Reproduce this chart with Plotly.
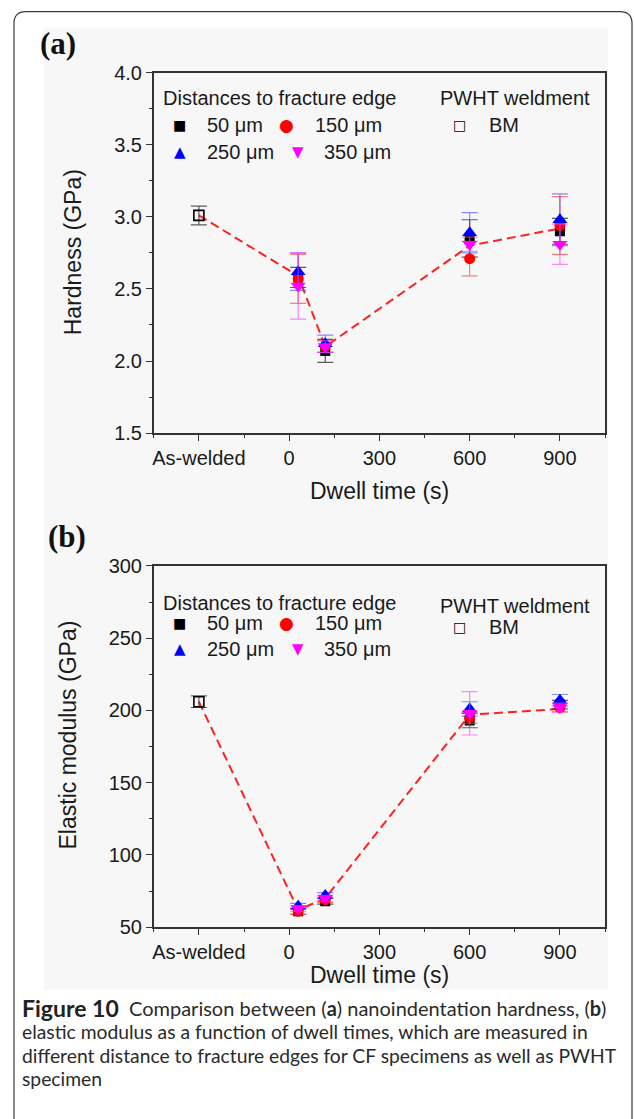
import plotly.graph_objects as go

W = 634
H_FIG = 1119
# the viewer shows the page ~10 px lower and ~0.982x vertically; compensate
Y_OFF = 10.2
Y_SCALE = 0.982

# ---------------- data ----------------
dwell_cf = [30, 120, 600, 900]          # dwell time (s) for CF specimens
bm_pos = [-300]                          # "As-welded" position on the axis
line_x = [-300, 30, 120, 600, 900]
x_tickvals = [-300, 0, 300, 600, 900]
x_ticktext = ["As-welded", "0", "300", "600", "900"]
x_minor = [-450, -150, 150, 450, 750, 1050]

# (a) hardness (GPa)
hard_bm = [3.01]
hard_bm_err = [0.065]
hard_50 = [2.58, 2.07, 2.85, 2.90]
hard_50_err = [0.07, 0.08, 0.13, 0.09]
hard_150 = [2.57, 2.10, 2.71, 2.94]
hard_150_err = [0.17, 0.04, 0.12, 0.20]
hard_250 = [2.62, 2.12, 2.89, 2.98]
hard_250_err = [0.13, 0.06, 0.14, 0.18]
hard_350 = [2.52, 2.10, 2.81, 2.81]
hard_350_err = [0.23, 0.04, 0.05, 0.14]
hard_line = [3.01, 2.59, 2.10, 2.80, 2.92]

# (b) elastic modulus (GPa)
mod_bm = [206]
mod_bm_err = [4]
mod_50 = [61, 68, 193, 204]
mod_50_err = [2, 2, 5, 3]
mod_150 = [61, 69, 195, 202]
mod_150_err = [2, 2, 4, 3]
mod_250 = [64.5, 72, 201, 207]
mod_250_err = [2, 2, 5, 4]
mod_350 = [63, 70, 198, 202]
mod_350_err = [2, 2, 15, 3]
mod_line = [206, 62, 70, 197, 201]

series_names = ["50 μm", "150 μm", "250 μm", "350 μm"]
# ---------------------------------------


def px(x):
    return x / W


def py(y):
    return 1 - ((y - Y_OFF) / Y_SCALE) / H_FIG


FONT = "Liberation Sans, Arial, sans-serif"
styles = [
    dict(symbol="square", size=10, color="black", err="rgba(40,40,40,0.75)"),
    dict(symbol="circle", size=11, color="#ff0000", err="rgba(255,60,60,0.65)"),
    dict(symbol="triangle-up", size=13, color="#0000ff", err="rgba(60,60,255,0.6)"),
    dict(symbol="triangle-down", size=13, color="#ff00ff", err="rgba(255,60,255,0.6)"),
]

fig = go.Figure()


def add_panel(xa, ya, bm, bm_err, vals, errs, line):
    fig.add_trace(go.Scatter(
        x=line_x, y=line, mode="lines", xaxis=xa, yaxis=ya,
        line=dict(color="#ff2020", width=2, dash="9px,5px"), showlegend=False))
    fig.add_trace(go.Scatter(
        x=bm_pos, y=bm, mode="markers", xaxis=xa, yaxis=ya,
        marker=dict(symbol="square-open", size=10, color="black", line=dict(width=1.6)),
        error_y=dict(type="data", array=bm_err, color="rgba(40,40,40,0.75)", thickness=1.2, width=8),
        showlegend=False))
    for v, e, s, n in zip(vals, errs, styles, series_names):
        fig.add_trace(go.Scatter(
            x=dwell_cf, y=v, mode="markers", xaxis=xa, yaxis=ya, name=n,
            marker=dict(symbol=s["symbol"], size=s["size"], color=s["color"], line=dict(width=0)),
            error_y=dict(type="data", array=e, color=s["err"], thickness=1.2, width=8),
            showlegend=False))


add_panel("x", "y", hard_bm, hard_bm_err,
          [hard_50, hard_150, hard_250, hard_350],
          [hard_50_err, hard_150_err, hard_250_err, hard_350_err], hard_line)
add_panel("x2", "y2", mod_bm, mod_bm_err,
          [mod_50, mod_150, mod_250, mod_350],
          [mod_50_err, mod_150_err, mod_250_err, mod_350_err], mod_line)

left, right = 153, 605
a_top, a_bot = 72, 433
b_top, b_bot = 566, 928

axis_common = dict(
    showline=True, linecolor="#333", linewidth=1.5, mirror=True,
    ticks="outside", ticklen=6, tickwidth=1.3, tickcolor="#333",
    showgrid=False, zeroline=False,
    tickfont=dict(family=FONT, size=20, color="#1a1a1a"),
)
xcommon = dict(axis_common, range=[-450, 1050], tickmode="array",
               tickvals=x_tickvals, ticktext=x_ticktext,
               minor=dict(tickmode="array", tickvals=x_minor, ticklen=3,
                          ticks="outside", tickcolor="#333", tickwidth=1.2))

fig.update_layout(
    width=W, height=H_FIG,
    margin=dict(l=0, r=0, t=0, b=0),
    paper_bgcolor="white", plot_bgcolor="rgba(0,0,0,0)",
    showlegend=False,
    xaxis=dict(xcommon, domain=[px(left), px(right)], anchor="y"),
    yaxis=dict(axis_common, domain=[py(a_bot), py(a_top)], anchor="x",
               range=[1.5, 4.0], tickmode="linear", tick0=1.5, dtick=0.5, tickformat=".1f",
               minor=dict(tick0=1.5, dtick=0.25, ticklen=3, ticks="outside", tickcolor="#333")),
    xaxis2=dict(xcommon, domain=[px(left), px(right)], anchor="y2"),
    yaxis2=dict(axis_common, domain=[py(b_bot), py(b_top)], anchor="x2",
                range=[50, 300], tickmode="linear", tick0=50, dtick=50,
                minor=dict(tick0=50, dtick=25, ticklen=3, ticks="outside", tickcolor="#333")),
)

shapes = []
# light grey image region
shapes.append(dict(type="rect", xref="paper", yref="paper", layer="below",
                   x0=px(43), x1=px(608), y0=py(990), y1=py(27),
                   fillcolor="#f7f7f7", line=dict(width=0)))
# card border with rounded top corners
r = 12
top = 10.8
path = (f"M {px(13)},{py(1140)} L {px(13)},{py(top + r)} "
        f"Q {px(13)},{py(top)} {px(13 + r)},{py(top)} "
        f"L {px(632 - r)},{py(top)} Q {px(632)},{py(top)} {px(632)},{py(top + r)} "
        f"L {px(632)},{py(1140)}")
shapes.append(dict(type="path", xref="paper", yref="paper", path=path,
                   line=dict(color="#3a3a3a", width=1.2)))
fig.update_layout(shapes=shapes)

ann = []


def text(x, y, t, size=20, family=FONT, color="#1a1a1a", xanchor="left", angle=0):
    ann.append(dict(x=px(x), y=py(y), xref="paper", yref="paper", text=t,
                    showarrow=False, xanchor=xanchor, yanchor="middle",
                    font=dict(family=family, size=size, color=color), textangle=angle))


GLYPH = "DejaVu Sans"

# panel labels
text(57, 43, "<b>(a)</b>", size=31, family="Liberation Serif, Times New Roman, serif", color="#111", xanchor="center")
text(66, 537, "<b>(b)</b>", size=31, family="Liberation Serif, Times New Roman, serif", color="#111", xanchor="center")

# axis titles
text(73, 252, "Hardness (GPa)", size=23, xanchor="center", angle=-90)
text(379, 491, "Dwell time (s)", size=23, xanchor="center")
text(67, 735, "Elastic modulus (GPa)", size=23, xanchor="center", angle=-90)
text(379, 976, "Dwell time (s)", size=23, xanchor="center")


def legend(y_head, y1, y2, y_pw, y_bm):
    text(160, y_head, "Distances to fracture edge")
    text(179, y1, "■", size=14, family=GLYPH, color="black", xanchor="center")
    text(204, y1, series_names[0])
    text(286, y1, "●", size=17, family=GLYPH, color="#ff0000", xanchor="center")
    text(312, y1, series_names[1])
    text(179, y2, "▲", size=15, family=GLYPH, color="#0000ff", xanchor="center")
    text(204, y2, series_names[2])
    text(297, y2, "▼", size=15, family=GLYPH, color="#ff00ff", xanchor="center")
    text(322, y2, series_names[3])
    text(438, y_pw, "PWHT weldment")
    text(459, y_bm, "□", size=14, family=GLYPH, color="black", xanchor="center")
    text(487, y_bm, "BM")


legend(97, 124, 151, 97, 124)
legend(603, 623, 649, 606, 627)

# caption
CAP = "Lato, Open Sans, sans-serif"
text(19, 1008.5, "<b>Figure 10</b>", size=23, family=CAP, color="#222")
text(126, 1008.5, "Comparison between (<b>a</b>) nanoindentation hardness, (<b>b</b>)",
     size=20, family=CAP, color="#2a2a2a")
cap_rest = [
    "elastic modulus as a function of dwell times, which are measured in",
    "different distance to fracture edges for CF specimens as well as PWHT",
    "specimen",
]
for i, t in enumerate(cap_rest):
    text(19, 1032.5 + i * 23.5, t, size=19.3, family=CAP, color="#2a2a2a")

fig.update_layout(annotations=ann)
fig.write_html(
    "out.html",
    config={"displayModeBar": False},
    post_script="document.body.style.margin='0';document.body.style.overflow='hidden';",
)
